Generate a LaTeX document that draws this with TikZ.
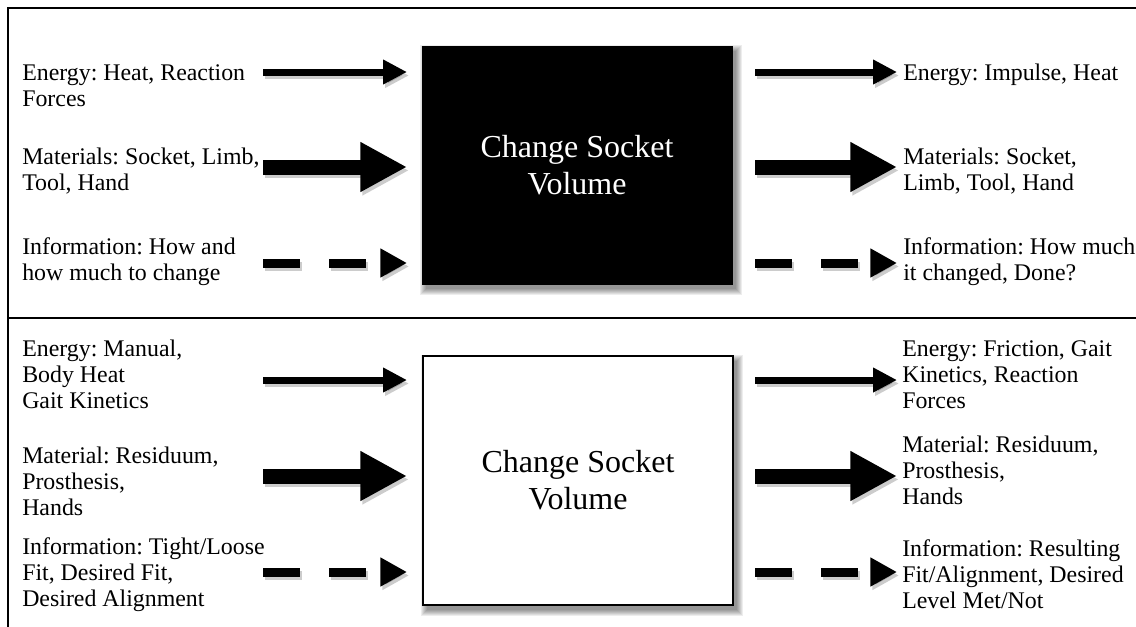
\documentclass[tikz,border=0pt]{standalone}
\usepackage{fontspec}
\setmainfont{Liberation Serif}
\usetikzlibrary{arrows.meta}
\frenchspacing
\begin{document}
\begin{tikzpicture}[x=0.75pt,y=-0.75pt,
  lbl/.style={anchor=base west,inner sep=0pt,align=left,font=\frenchspacing\fontsize{17.9}{19.5}\selectfont},
  fnbox/.style={minimum width=232.5pt,inner sep=0pt,align=center,font=\fontsize{24}{27.6}\selectfont},
  thinarr/.style={line width=5.25pt,-{Triangle[length=18pt,width=17.5pt]}},
  thickarr/.style={line width=11.25pt,-{Triangle[length=35pt,width=35pt]}},
  infoarr/.style={line width=6.75pt,dash pattern=on 27.75pt off 21.75pt,-{Triangle[length=20pt,width=20.5pt]}},
  arrshadow/.style={draw=black,opacity=0.2,transform canvas={shift={(1.5pt,-2.6pt)}}},
  frame/.style={line width=1.6pt}]
\useasboundingbox (0,0) rectangle (1136,626);
\fill[white] (0,0) rectangle (1136,626);
% frame
\draw[frame] (1136,8) -- (8,8) -- (8,630);
\draw[frame] (8,318) -- (1136,318);

% boxes
\node[fnbox,minimum height=178.5pt] (topbox) at (577,165) {};
\node[fnbox,minimum height=186.75pt] (botbox) at (578,480.5) {};
\foreach \r in {6,5,4,3,2,1,0}{
  \fill[black,opacity=0.07] ([shift={(4-\r,5-\r)}]topbox.north west) rectangle ([shift={(4+\r,5+\r)}]topbox.south east);
  \fill[black,opacity=0.07] ([shift={(4-\r,5-\r)}]botbox.north west) rectangle ([shift={(4+\r,5+\r)}]botbox.south east);
}
\node[fnbox,minimum height=178.5pt,fill=black,draw=black,text=white] (topboxf) at (577,165) {Change Socket\\Volume};
\node[fnbox,minimum height=186.75pt,fill=white,draw=black,line width=1.5pt] (botboxf) at (578,480.5) {Change Socket\\Volume};

% labels top (anchor = baseline of last line)
\node[lbl] (tl1) at (22,106) {Energy: Heat, Reaction\\Forces};
\node[lbl] (tl2) at (22,190) {Materials: Socket, Limb,\\Tool, Hand};
\node[lbl] (tl3) at (22,280) {Information: How and\\how much to change};
\node[lbl] (tr1) at (903,80) {Energy: Impulse, Heat};
\node[lbl] (tr2) at (903,190) {Materials: Socket,\\Limb, Tool, Hand};
\node[lbl] (tr3) at (903,280) {Information: How much\\it changed, Done?};
% labels bottom
\node[lbl] (bl1) at (22,408) {Energy: Manual,\\Body Heat\\Gait Kinetics};
\node[lbl] (bl2) at (22,515) {Material: Residuum,\\Prosthesis,\\Hands};
\node[lbl] (bl3) at (22,606) {Information: Tight/Loose\\Fit, Desired Fit,\\Desired Alignment};
\node[lbl] (br1) at (902,408) {Energy: Friction, Gait\\Kinetics, Reaction\\Forces};
\node[lbl] (br2) at (902,504) {Material: Residuum,\\Prosthesis,\\Hands};
\node[lbl] (br3) at (902,608) {Information: Resulting\\Fit/Alignment, Desired\\Level Met/Not};

% arrow end points
\foreach \n/\y in {t1/72,t2/167,t3/263,b1/380,b2/476,b3/572}{
  \coordinate (\n Ls) at (263,\y);
  \coordinate (\n Le) at (407,\y);
  \coordinate (\n Rs) at (755,\y);
  \coordinate (\n Re) at (897,\y);
}
\foreach \n/\s in {t1/thinarr,t2/thickarr,t3/infoarr,b1/thinarr,b2/thickarr,b3/infoarr}{
  \draw[\s,arrshadow] (\n Ls) -- (\n Le);
  \draw[\s,arrshadow] (\n Rs) -- (\n Re);
  \draw[\s] (\n Ls) -- (\n Le);
  \draw[\s] (\n Rs) -- (\n Re);
}
\end{tikzpicture}
\end{document}
